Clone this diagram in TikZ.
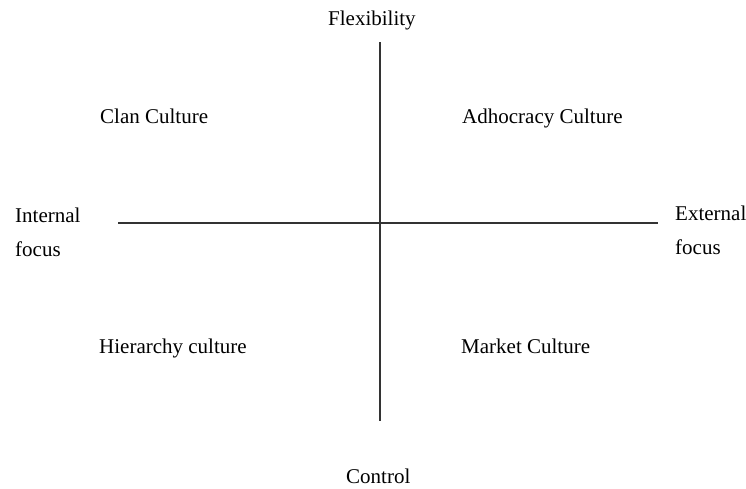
\documentclass[tikz,border=0pt]{standalone}
\usepackage{fontspec}
\setmainfont{Liberation Serif}
\begin{document}
\begin{tikzpicture}[x=1pt,y=-1pt,
  lbl/.style={anchor=base west,inner sep=0pt,font=\fontsize{21}{40}\selectfont,align=left},
  axis/.style={line width=1.3pt,draw=black!80}]
\useasboundingbox (0,0) rectangle (746,488);
\coordinate (vt) at (380,42);
\coordinate (vb) at (380,421);
\coordinate (hl) at (118,223);
\coordinate (hr) at (658,223);
\draw[axis] (vt) -- (vb);
\draw[axis] (hl) -- (hr);
\node[lbl] (flex) at (328,25) {Flexibility};
\node[lbl] (ctrl) at (346,483) {Control};
\node[lbl] (int) at (15,222) {Internal};
\node[lbl] (intf) at (15,256) {focus};
\node[lbl] (ext) at (675,220) {External};
\node[lbl] (extf) at (675,254) {focus};
\node[lbl] (clan) at (100,123) {Clan Culture};
\node[lbl] (adho) at (462,123) {Adhocracy Culture};
\node[lbl] (hier) at (99,353) {Hierarchy culture};
\node[lbl] (mark) at (461,353) {Market Culture};
\end{tikzpicture}
\end{document}
